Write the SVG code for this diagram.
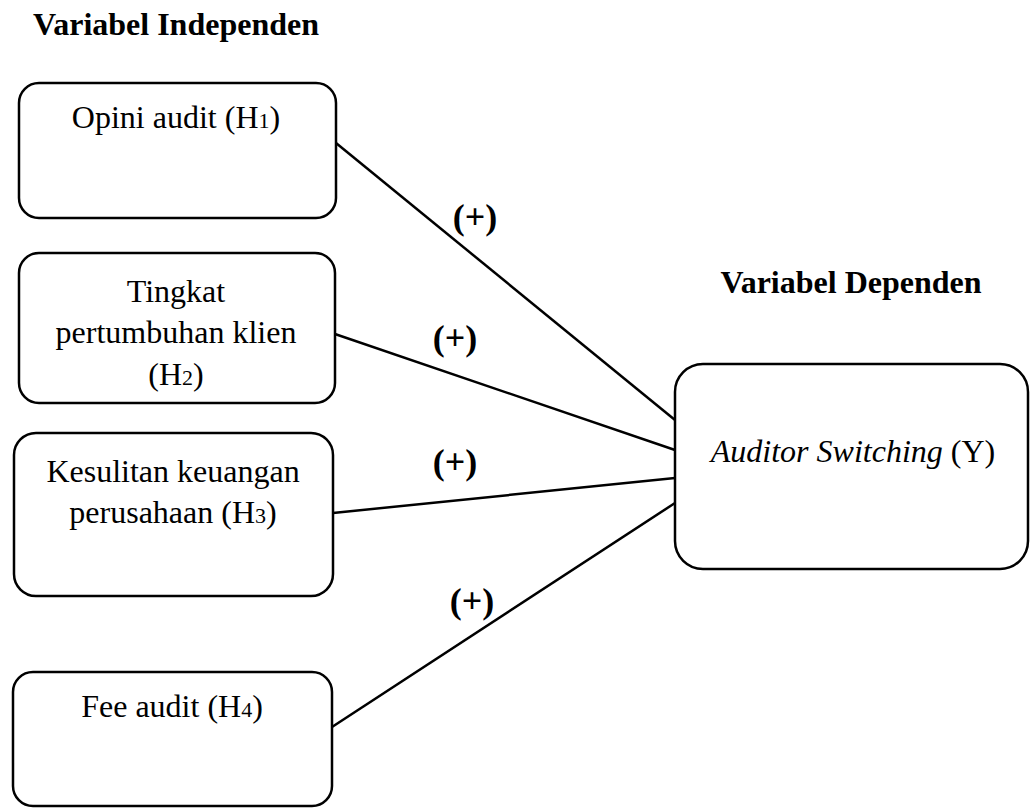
<svg xmlns="http://www.w3.org/2000/svg" width="1030" height="809" viewBox="0 0 1030 809">
<style>
.box{fill:#fff;stroke:#000;stroke-width:2.5}
.t{font-family:"Liberation Serif","Times New Roman",serif;font-size:32px;fill:#000;text-anchor:middle}
.b{font-weight:bold}
.p{font-size:36px}
.s{font-size:22px}
.c line{stroke:#000;stroke-width:2.5}
</style>
<rect width="1030" height="809" fill="#fff"/>
<text class="t b" x="176" y="35">Variabel Independen</text>
<text class="t b" x="851" y="293">Variabel Dependen</text>
<g class="c" id="connectors">
<line x1="336" y1="143" x2="675" y2="420"/>
<line x1="332" y1="333" x2="675" y2="450"/>
<line x1="333" y1="513" x2="675" y2="478"/>
<line x1="332" y1="727" x2="675" y2="503"/>
<text class="t b p" x="475" y="229">(+)</text>
<text class="t b p" x="455" y="350">(+)</text>
<text class="t b p" x="455" y="474">(+)</text>
<text class="t b p" x="472" y="613">(+)</text>
</g>
<g id="h1">
<rect class="box" x="19" y="83" width="317" height="135" rx="20"/>
<text class="t" x="176" y="128">Opini audit (H<tspan class="s">1</tspan>)</text>
</g>
<g id="h2">
<rect class="box" x="19" y="253" width="316" height="150" rx="20"/>
<text class="t" x="176" y="302">Tingkat</text>
<text class="t" x="176" y="343">pertumbuhan klien</text>
<text class="t" x="176" y="385">(H<tspan class="s">2</tspan>)</text>
</g>
<g id="h3">
<rect class="box" x="14" y="433" width="319" height="163" rx="22"/>
<text class="t" x="173" y="482">Kesulitan keuangan</text>
<text class="t" x="173" y="523">perusahaan (H<tspan class="s">3</tspan>)</text>
</g>
<g id="h4">
<rect class="box" x="13" y="672" width="319" height="134" rx="20"/>
<text class="t" x="172" y="717">Fee audit (H<tspan class="s">4</tspan>)</text>
</g>
<g id="y">
<rect class="box" x="675" y="364" width="353" height="205" rx="28"/>
<text class="t" x="853" y="462"><tspan font-style="italic">Auditor Switching</tspan> (Y)</text>
</g>
</svg>
